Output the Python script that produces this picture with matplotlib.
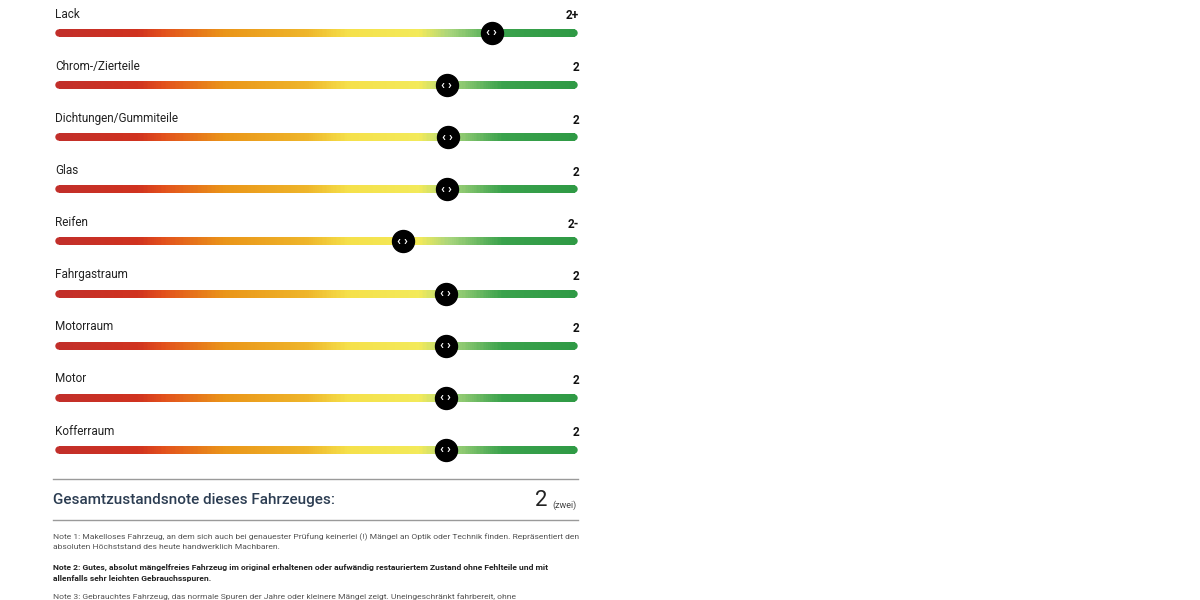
import numpy as np
import matplotlib.pyplot as plt
from matplotlib.colors import LinearSegmentedColormap
from matplotlib.collections import LineCollection

# Kategorien, Reglerposition (0-100) und Noten
kategorien = ['Lack', 'Chrom-/Zierteile', 'Dichtungen/Gummiteile', 'Glas', 'Reifen',
              'Fahrgastraum', 'Motorraum', 'Motor', 'Kofferraum']
position = [84.0, 75.3, 75.5, 75.3, 66.7, 75.1, 75.1, 75.1, 75.1]
noten = ['2+', '2', '2', '2', '2-', '2', '2', '2', '2']

gesamt_titel = 'Gesamtzustandsnote dieses Fahrzeuges:'
gesamt_note = '2'
gesamt_wort = '(zwei)'

noten_text = [
    ('Note 1: Makelloses Fahrzeug, an dem sich auch bei genauester Prüfung keinerlei (!) Mängel an Optik oder Technik finden. Repräsentiert den\n'
     'absoluten Höchststand des heute handwerklich Machbaren.', 'normal'),
    ('Note 2: Gutes, absolut mängelfreies Fahrzeug im original erhaltenen oder aufwändig restauriertem Zustand ohne Fehlteile und mit\n'
     'allenfalls sehr leichten Gebrauchsspuren.', 'bold'),
    ('Note 3: Gebrauchtes Fahrzeug, das normale Spuren der Jahre oder kleinere Mängel zeigt. Uneingeschränkt fahrbereit, ohne', 'normal'),
]

# Farbverlauf rot -> orange -> gelb -> grün
cmap = LinearSegmentedColormap.from_list('skala', [
    (0.00, '#c22f2a'), (0.15, '#d0321f'), (0.20, '#e2501c'), (0.32, '#ea9519'),
    (0.48, '#eeb52a'), (0.56, '#f5e04a'), (0.70, '#f3ea5a'), (0.76, '#a6d47c'),
    (0.86, '#3aa24c'), (1.00, '#2f9a45')])

plt.rcParams['font.family'] = ['Roboto', 'DejaVu Sans']
fig = plt.figure(figsize=(12, 6), dpi=100)
fig.patch.set_facecolor('white')

# Achse für die Regler: Wert 0 -> Pixel 59, Wert 100 -> Pixel 574
sx = 5.15
ax = fig.add_axes([45 / 1200, 130 / 600, 545 / 1200, 470 / 600])
ax.axis('off')
ax.set_xlim(-14 / sx, 100 + 16 / sx)
ax.set_ylim(437 / 52.1, -33 / 52.1)

x = np.linspace(0, 100, 401)
lw = 5.4
for i, (kat, pos, note) in enumerate(zip(kategorien, position, noten)):
    segs = [[(x[j], i), (x[j + 1] + 0.1, i)] for j in range(len(x) - 1)]
    lc = LineCollection(segs, colors=cmap(x[:-1] / 100), linewidths=lw,
                        capstyle='butt', antialiaseds=False)
    ax.add_collection(lc)
    ax.plot([0, 0.2], [i, i], color=cmap(0.0), lw=lw, solid_capstyle='round')
    ax.plot([99.8, 100], [i, i], color=cmap(1.0), lw=lw, solid_capstyle='round')
    ax.scatter([pos], [i], s=250, color='black', zorder=5)
    ax.text(pos, i, '‹ ›', color='white', fontsize=9, fontweight='bold',
            ha='center', va='center', zorder=6)
    ax.text(-0.8, i - 0.36, kat, fontsize=8.5, color='#222222', ha='left', va='center')
    ax.text(101, i - 0.33, note, fontsize=8.5, fontweight='bold', color='#111111',
            ha='right', va='center')

# Untere Textfläche in Pixelkoordinaten
ax2 = fig.add_axes([0, 0, 1, 1], zorder=-1)
ax2.set_xlim(0, 1200)
ax2.set_ylim(600, 0)
ax2.axis('off')

ax2.plot([53, 578], [479, 479], color='#9a9a9a', lw=1)
ax2.plot([53, 578], [520, 520], color='#9a9a9a', lw=1)
ax2.text(53, 500, gesamt_titel, fontsize=11, color='#2c3d52', ha='left', va='center',
         fontweight='medium')
ax2.text(548, 501, gesamt_note, fontsize=16, color='#222222', ha='right', va='center')
ax2.text(577, 505, gesamt_wort, fontsize=6.5, color='#444444', ha='right', va='center')

y_pos = [542, 573, 597]
for (txt, w), y in zip(noten_text, y_pos):
    ax2.text(53, y, txt, fontsize=6.1, color='#555555' if w == 'normal' else '#222222',
             fontweight=w, ha='left', va='center', linespacing=1.55)

fig.savefig('out.png', dpi=100, facecolor='white')
